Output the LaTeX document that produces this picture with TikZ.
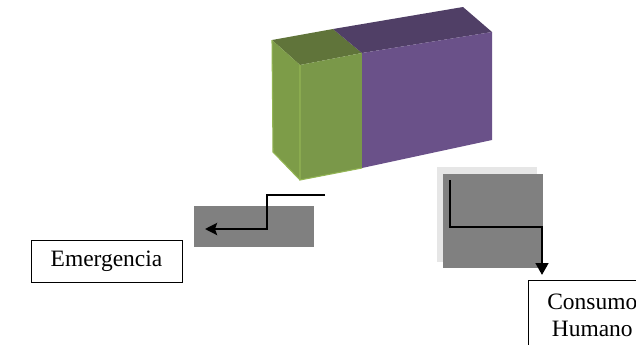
\documentclass[tikz,border=0pt]{standalone}
\usepackage{fontspec}
\setmainfont{Liberation Serif}
\usetikzlibrary{arrows.meta,positioning}
\definecolor{greentop}{HTML}{60743A}
\definecolor{greenside}{HTML}{7D9C48}
\definecolor{greenfront}{HTML}{7A9849}
\definecolor{greenedge}{HTML}{93B554}
\definecolor{purpletop}{HTML}{503F66}
\definecolor{purplefront}{HTML}{6A5189}
\definecolor{padgray}{HTML}{808080}
\definecolor{shadowgray}{HTML}{E6E6E6}

\begin{document}
\begin{tikzpicture}[
  x=0.75pt, y=-0.75pt,
  pad/.style={fill=padgray, inner sep=0pt},
  labelbox/.style={draw, fill=white, font=\fontsize{17.6}{20.3}\selectfont, align=center, inner sep=0pt},
  flow/.style={draw, line width=2pt, ->, >={Stealth[length=9pt, width=9pt, inset=1.5pt]}}
]
\useasboundingbox (0,0) rectangle (636,344);
\clip (0,0) rectangle (636,344);

% tank
\fill[greentop] (272,40) -- (333,29) -- (362,53) -- (300,65) -- cycle;
\fill[purpletop] (333,29) -- (463,7) -- (492,32) -- (362,53) -- cycle;
\fill[greenside] (272,40) -- (300,65) -- (300,180) -- (273,152) -- cycle;
\fill[greenfront] (300,65) -- (362,53) -- (362,168) -- (300,180) -- cycle;
\fill[purplefront] (362,53) -- (492,32) -- (492,140) -- (362,168) -- cycle;
\draw[greenedge, line width=0.8pt] (300,65) -- (300,180) -- (362,168);
\draw[greenedge, line width=0.8pt] (272,40) -- (273,152) -- (300,180);

% outlets
\node[pad, minimum width=90pt, minimum height=30.75pt] (leftpad) at (254,226.5) {};
\node[fill=shadowgray, inner sep=0pt, minimum width=75pt, minimum height=71.25pt] (rightshadow) at (487,214.5) {};
\node[pad, minimum width=75pt, minimum height=70.5pt] (rightpad) at (493,221) {};

\coordinate (leftstart) at (325,195);
\coordinate (leftend) at (205,229);
\draw[flow] (leftstart) -- ++(-58,0) |- (leftend);

\coordinate (rightstart) at (450,180);
\coordinate (rightbend) at (542,227);
\coordinate (rightend) at (542,275);
\draw[flow, >={Triangle[length=9pt, width=9.5pt]}] (rightstart) |- (rightbend) -- (rightend);

% labels
\node[labelbox, minimum width=113.25pt, minimum height=31.5pt] (emergencia) at (106.5,261) {Emergencia};
\node[labelbox, anchor=north west, minimum width=96pt, minimum height=52.5pt] (consumo) at (528,280) {Consumo\\Humano};
\end{tikzpicture}
\end{document}
